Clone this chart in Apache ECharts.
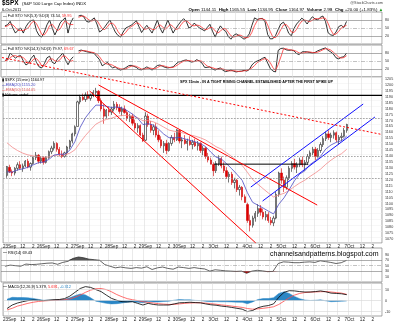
<!DOCTYPE html>
<html>
<head>
<meta charset="utf-8">
<script src="https://cdn.jsdelivr.net/npm/echarts@6/dist/echarts.min.js"></script>
<style>
html,body{margin:0;padding:0;background:#fff;}
#chart{width:400px;height:323px;}
</style>
</head>
<body>
<div id="chart"></div>
<script>
// ---------- categories / tick labels ----------
const days = ['23Sep','26Sep','27Sep','28Sep','29Sep','30Sep','3Oct','4Oct','5Oct','6Oct','7Oct'];
const slotTimes = ['9:30','10:00','10:30','11:00','11:30','12:00','12:30','13:00','13:30','14:00','14:30','15:00','15:30'];
const preSlots = ['22Sep 15:00','22Sep 15:30'];
const intradayTicks = {5:'12', 9:'2'};

// ---------- 30-min bars [open, high, low, close] ----------
const sep22 = [null, [1122,1130,1120,1129.5]];
const sep23 = [[1128.8,1131,1124,1125],[1125,1127,1121.36,1124],[1124,1129,1122,1128],[1128,1133,1126,1131],[1131,1134,1127,1128],[1128,1132,1125,1130],[1130,1135,1129,1134],[1134,1136,1128,1129],[1129,1133,1126,1132],[1132,1138,1131,1137],[1137,1141.72,1135,1139],[1139,1140,1132,1134],[1134,1138,1132,1136.4]];
const sep26 = [[1136.9,1138,1131.07,1133],[1133,1138,1132,1137],[1137,1143,1136,1142],[1142,1147,1140,1145],[1145,1150.78,1143,1149],[1149,1150,1142,1144],[1144,1146,1138,1140],[1140,1143,1136.57,1138],[1138,1142,1137,1141],[1141,1147,1139,1146],[1146,1152,1144,1151],[1151,1158,1149,1157],[1157,1164.2,1155,1163]];
const sep27 = [[1163.3,1185,1163.3,1184],[1184,1190,1182,1188],[1188,1191,1185,1186],[1186,1192,1184,1190],[1190,1193,1186,1187],[1187,1191,1185,1190],[1190,1194,1188,1192],[1192,1195.86,1190,1193],[1193,1194,1183,1185],[1185,1187,1176,1178],[1178,1182,1165.54,1172],[1172,1178,1170,1177],[1177,1180,1172,1175.4]];
const sep28 = [[1175.4,1180,1173,1178],[1178,1184.71,1176,1182],[1182,1184,1177,1179],[1179,1182,1174,1176],[1176,1180,1172,1178],[1178,1181,1174,1175],[1175,1177,1168,1170],[1170,1174,1167,1172],[1172,1174,1164,1166],[1166,1169,1160,1162],[1162,1166,1158,1164],[1164,1165,1155,1156],[1156,1158,1150.26,1151.1]];
const sep29 = [[1151.7,1175.31,1151,1172],[1172,1174,1163,1165],[1165,1168,1158,1160],[1160,1165,1156,1163],[1163,1166,1154,1156],[1156,1160,1150,1152],[1152,1155,1145,1147],[1147,1151,1141,1149],[1149,1152,1139.93,1143],[1143,1150,1142,1149],[1149,1156,1147,1154],[1154,1158,1150,1152],[1152,1161,1151,1160.4]];
const sep30 = [[1159.93,1159.93,1149,1151],[1151,1154,1145,1152],[1152,1156,1148,1149],[1149,1153,1143,1151],[1151,1155,1147,1148],[1148,1152,1144,1150],[1150,1153,1146,1147],[1147,1151,1143,1149],[1149,1150,1141,1143],[1143,1147,1139,1145],[1145,1146,1136,1138],[1138,1141,1133,1135],[1135,1137,1131.34,1131.4]];
const oct3 = [[1131.2,1133,1121.4,1126],[1126,1134,1124,1132],[1132,1138.99,1130,1136],[1136,1138,1128,1130],[1130,1133,1124,1126],[1126,1129,1119,1121],[1121,1125,1116,1123],[1123,1125,1114,1116],[1116,1120,1111,1118],[1118,1119,1108,1110],[1110,1114,1105,1112],[1112,1113,1101,1104],[1104,1106,1098.9,1099.2]];
const oct4 = [[1097.4,1099,1082,1084],[1084,1089,1074.77,1080],[1080,1088,1078,1086],[1086,1092,1083,1090],[1090,1097.8,1087,1094],[1094,1097,1088,1091],[1091,1094,1085,1087],[1087,1092,1084,1089],[1089,1091,1082,1084],[1084,1087,1080,1082],[1082,1088,1079.22,1086],[1086,1108,1085,1106],[1106,1125.12,1104,1124]];
const oct5 = [[1124,1128,1115,1118],[1118,1121,1107.92,1112],[1112,1122,1110,1120],[1120,1130,1118,1128],[1128,1134,1125,1132],[1132,1136,1127,1129],[1129,1133,1124,1131],[1131,1137,1129,1135],[1135,1138,1129,1131],[1131,1135,1126,1133],[1133,1140,1131,1138],[1138,1143,1136,1141],[1141,1146.07,1139,1144]];
const oct6 = [[1144.1,1146,1134.95,1138],[1138,1145,1137,1143],[1143,1150,1141,1148],[1148,1155,1146,1153],[1153,1159,1151,1157],[1157,1160,1152,1154],[1154,1158,1150,1156],[1156,1160,1153,1158],[1158,1159,1150,1152],[1152,1156,1148,1154],[1154,1158,1151,1155],[1155,1162,1154,1160],[1160,1165.55,1158,1164.97]];

// ---------- moving averages (hourly samples) ----------
const ema20 = [1125,1124.8,1126.6,1127.5,1128.9,1130.9,1132.7,1133.3,1135.5,1139.1,
 1139.9,1139.8,1143.2,1150.6,1162.6,1170.6,1176.3,1181.3,1181.2,1180.3,
 1179.3,1179.7,1178.9,1176.6,1173.7,1170.2,1164.9,1165.6,1164.4,1161,
 1156.8,1153.8,1153.6,1154.1,1152.8,1151.6,1150.3,1148.8,1146.3,1141.6,
 1137.4,1135.9,1131.9,1127.6,1122.9,1117.8,1107.4,1099.3,1096.9,1094.5,
 1091.9,1089.5,1097.7,1103.1,1110.1,1117.5,1123.2,1125.9,1131.3,1134.3,
 1138.2,1144.3,1147.7,1149.9,1151.3,1155.2];
const ema50 = [1149.5,1145.8,1143,1140.8,1139.3,1138.4,1137.9,1137.4,1137.6,1138.9,
 1139.3,1139.4,1140.7,1143.6,1149.9,1155.6,1160.5,1165.2,1167.6,1169.2,
 1170.3,1171.8,1172.6,1172.6,1172.0,1170.7,1168.1,1168.2,1167.2,1165.2,
 1162.7,1160.2,1159.2,1158.6,1157.4,1156.2,1155.1,1153.7,1151.9,1149.1,
 1146.2,1144.2,1141.1,1137.9,1134.4,1130.4,1124.6,1118.5,1114.6,1110.8,
 1107.2,1103.8,1105.5,1106.9,1109.4,1112.6,1115.6,1118.0,1121.2,1124.1,
 1127.3,1131.4,1134.9,1137.9,1140.3,1144.05];

// ---------- Full STO (per 30-min bar) ----------
const stoK5 = [null,58,62,75,50,31,42,50,31,55,
 70,78,80,40,22,16,35,62,80,50,
 24,45,69,80,88,31,70,88,null,95,
 98,92,75,72,80,88,65,35,42,54,
 68,80,55,35,22,16,35,50,55,60,
 68,78,55,33,48,60,45,31,55,80,
 50,31,55,80,55,31,48,62,75,85,
 75,50,55,68,60,50,45,39,52,64,
 38,16,40,58,45,38,18,8,22,28,
 22,15,8,15,28,60,88,82,85,86,
 73,25,9,10,22,45,65,72,55,30,
 21,48,65,76,87,78,65,80,92,84,
 80,90,95,74,32,24,22,35,55,60,
 52,74.54];
const stoD5 = [null,55,58,65,62,52,41,41,41,45,
 52,68,76,66,47,26,24,38,59,64,
 51,40,46,65,79,66,63,63,null,90,
 94,95,88,80,76,80,78,63,47,44,
 55,67,68,57,37,24,24,34,47,55,
 61,69,67,55,45,47,51,45,44,55,
 62,54,45,55,63,55,45,47,62,74,
 78,70,60,58,61,59,52,45,45,52,
 51,39,31,38,48,47,34,21,16,19,
 24,22,15,13,17,34,59,77,85,84,
 81,61,36,15,14,26,44,61,64,52,
 35,33,45,63,76,80,77,74,79,85,
 85,85,88,86,67,43,26,27,37,50,
 56,59.95];
const stoK14 = [null,52,56,80,70,61,68,70,50,35,
 42,60,72,45,28,24,40,62,68,45,
 40,58,68,80,55,36,55,66,null,88,
 91,88,85,83,81,78,66,55,32,38,
 45,32,24,28,20,16,20,25,32,34,
 30,26,18,17,22,28,22,16,25,33,
 35,30,26,24,26,28,38,46,48,52,
 54,50,46,48,55,50,42,26,26,28,
 20,16,21,24,15,10,13,16,12,9,
 11,12,15,12,18,35,45,50,54,60,
 64,42,22,12,9,90,97,98,92,90,
 91,88,78,74,84,85,84,82,80,82,
 88,92,96,99,90,84,76,62,58,64,
 66,79.97];
const stoD14 = [null,50,53,63,69,70,66,66,63,52,
 42,46,58,59,48,32,31,42,57,58,
 51,48,55,69,68,57,49,52,null,80,
 88,89,88,85,83,81,75,66,51,42,
 38,38,34,28,24,21,19,20,26,30,
 32,30,25,20,19,22,24,22,21,25,
 31,33,30,27,25,26,31,37,44,49,
 51,52,50,48,50,51,49,39,31,27,
 25,21,19,20,20,16,13,13,14,12,
 11,11,13,15,18,24,33,44,50,55,
 59,55,43,25,14,37,65,95,96,93,
 91,90,86,80,79,81,84,84,82,81,
 83,87,92,96,95,91,83,74,65,61,
 63,69.67];

// ---------- RSI / MACD (hourly samples) ----------
const rsi14 = [48,52,50,48,56,54,55,57,59,60,
 55,62,66,77,82,79,74,72,70,54,
 48,42,45,42,40,43,41,46,36,42,
 45,40,37,45,43,40,43,40,38,30,
 35,33,31,30,29,30,22,30,33,31,
 28,29,58,64,63,61,61,63,64,62,
 68,65,62,58,61,69.43];
const macdLine = [-7.2,-4,-2.2,-1,0,0.5,0.3,0,0.4,0.8,
 1,1.8,4,7.5,11,12.7,12,10,8.2,5,
 2,0.3,-1,-1.2,-1,-2.5,-4,-2.5,-3.5,-4,
 -4,-4,-3,-2,-1.8,-1.5,-1.8,-2,-3,-3.8,
 -4.2,-5,-5.5,-6.2,-7,-7.8,-10,-9,-6.5,-5.2,
 -4.5,-3,3,7.5,9,8.8,8.2,7.8,7.8,8.2,
 8.8,8,6.8,6.5,6.2,5.379];
const macdSignal = [-8.5,-7,-5,-3.8,-2.5,-1.5,-0.8,-0.3,0,0.3,
 0.5,0.8,1.5,3,5,7.5,9.5,10.8,11,10,
 8,5.5,3.5,1.8,0.8,0,-1,-1.6,-2.2,-2.8,
 -3.2,-3.5,-3.4,-3,-2.5,-2.2,-2,-2,-2.3,-2.8,
 -3.3,-3.9,-4.4,-5,-5.6,-6.2,-7.2,-7.8,-7.5,-7,
 -6.4,-5.6,-3.5,-0.5,2.5,5,6.5,7.3,7.7,7.9,
 8.1,8.2,7.8,7.3,6.8,5.691];
const macdHist = [1.3,3,2.8,2.8,2.5,2,1.1,0.3,0.4,0.5,
 0.5,1,2.5,4.5,6,5.2,2.5,-0.5,-1.5,-2.5,
 -3,-2.8,-2.2,-1.5,-1,-1.5,-2,-0.9,-1.3,-1.2,
 -0.8,-0.5,0.4,1,0.7,0.7,0.2,0,-0.7,-1,
 -0.9,-1.1,-1.1,-1.2,-1.4,-1.6,-2.8,-1.2,1,1.8,
 1.9,2.6,6.5,8,6.5,3.8,1.7,0.5,0.1,0.3,
 0.7,-0.2,-1,-0.8,-0.6,-0.312];

// ---------- annotated swing points (bar index, high/low) ----------
const swingIdx  = [3,12,15,19,22,35,38,42,53,54,62,67,82,94,97,103,107,119];
const swingKind = ['low','high','low','high','low','high','low','high','low','high','low','high','high','low','high','low','low','low'];

// ---------- hand-drawn trendlines, in (bar index, price) ----------
const trendDashed = [[-0.9,1221.4],[144.5,1156.5]];
const trendUpperRed = [[36.0,1198.3],[119.7,1097.0]];
const trendLowerRed = [[32.6,1193.2],[96.2,1065.0]];
const trendUpperBlue = [[94.3,1112.2],[137.3,1182.2]];
const trendLowerBlue = [[98.8,1100.4],[141.8,1171.3]];
const levelTop = [[-0.5,1189.5],[144.5,1189.5]];
const levelMid = [[80.2,1131.5],[116.3,1131.5]];
const dottedLevels = [1170,1138.5,1120];

// ---------- build ----------
const F = '"Liberation Sans", Arial, sans-serif';
const categories = preSlots.concat(...days.map(d => slotTimes.map(t => d + ' ' + t)));
const tickLabel = categories.map((c, i) => {
  if (i < preSlots.length) return '';
  const s = (i - preSlots.length) % 13;
  const d = Math.floor((i - preSlots.length) / 13);
  if (s === 0) return days[d];
  return intradayTicks[s] || '';
});
const bars = [].concat(sep22, sep23, sep26, sep27, sep28, sep29, sep30, oct3, oct4, oct5, oct6);
const candleData = bars.map(b => b ? [b[0], b[3], b[2], b[1]] : ['-','-','-','-']);
const perBar = arr => arr.map((v, i) => [i, v]);
const hourly = arr => arr.map((v, k) => [2 * k + 1, v]);
const swingData = swingIdx.map((i, n) => {
  const hi = swingKind[n] === 'high';
  return { value: [i, hi ? bars[i][1] : bars[i][2]], label: { position: hi ? 'top' : 'bottom' } };
});

const gridDefs = [[12,32],[45,32],[77,166],[248,34],[283,33]];
const grid = gridDefs.map(g => ({ left: 1, right: 18, top: g[0], height: g[1], show: true, borderColor: '#8c8c8c', borderWidth: 0.8, backgroundColor: '#fff' }));

const showIdx = i => tickLabel[i] !== '';
const xAxis = [];
for (let g = 0; g < 5; g++) {
  xAxis.push({
    type: 'category', gridIndex: g, data: categories, boundaryGap: true,
    axisLine: { show: false }, axisTick: { show: false },
    axisLabel: { show: g === 2 || g === 4, interval: showIdx, formatter: (v, i) => tickLabel[i], fontSize: 4.6, color: '#222', margin: 1.5, fontFamily: F },
    splitLine: { show: true, interval: showIdx, lineStyle: { color: '#dcdcdc', width: 0.6 } }
  });
}
for (let g = 0; g < 5; g++) {
  xAxis.push({ type: 'value', gridIndex: g, min: -0.5, max: 144.5, show: false });
}

const yLbl = (shown, extra) => Object.assign({ fontSize: 3.7, color: '#333', margin: 3, fontFamily: F, formatter: v => shown.indexOf(v) >= 0 ? String(v) : '' }, extra || {});
const yBase = { type: 'value', position: 'right', axisLine: { show: false }, axisTick: { show: false }, splitLine: { show: false } };
const mainTicks = [];
for (let v = 1070; v <= 1205; v += 5) mainTicks.push(v);
const yAxis = [
  Object.assign({}, yBase, { gridIndex: 0, min: -10, max: 110, interval: 10, axisLabel: yLbl([20,50,80]) }),
  Object.assign({}, yBase, { gridIndex: 1, min: -10, max: 110, interval: 10, axisLabel: yLbl([20,50,80]) }),
  Object.assign({}, yBase, { gridIndex: 2, min: 1065, max: 1205, interval: 5, axisLabel: yLbl(mainTicks, { verticalAlign: 'top' }), splitLine: { show: true, lineStyle: { color: '#efefef', width: 0.5 } } }),
  Object.assign({}, yBase, { gridIndex: 3, min: -10, max: 115, interval: 10, axisLabel: yLbl([10,30,50,70,90]) }),
  Object.assign({}, yBase, { gridIndex: 4, min: -14, max: 16, interval: 2, axisLabel: yLbl([-10,0,10]) })
];

const refLines = (solid, dashdot, color) => ({
  silent: true, symbol: ['none','none'], label: { show: false }, animation: false,
  data: solid.map(v => ({ yAxis: v, lineStyle: { type: 'solid', color: color || '#777', width: 0.6 } }))
    .concat(dashdot.map(v => ({ yAxis: v, lineStyle: { type: [4,1.5,1,1.5], color: '#999', width: 0.6 } })))
});
const lineS = (xi, yi, data, color, width, extra) => Object.assign({
  type: 'line', xAxisIndex: xi, yAxisIndex: yi, data: data, symbol: 'none',
  lineStyle: { color: color, width: width }, animation: false
}, extra || {});

const series = [
  // STO 5,3
  lineS(5, 0, perBar(stoK5), '#000', 0.8, { markLine: refLines([80,20],[50]) }),
  lineS(5, 0, perBar(stoD5), '#ff3030', 0.8),
  // STO 14,3
  lineS(6, 1, perBar(stoK14), '#000', 0.8, { markLine: refLines([80,20],[50]) }),
  lineS(6, 1, perBar(stoD14), '#ff3030', 0.8),
  // main price
  {
    type: 'candlestick', xAxisIndex: 2, yAxisIndex: 2, data: candleData, barWidth: 1.8, animation: false,
    itemStyle: { color: '#ffffff', color0: '#e00000', borderColor: '#1a1a1a', borderColor0: '#d00000', borderWidth: 0.6 },
    markLine: { silent: true, symbol: ['none','none'], label: { show: false }, animation: false,
      data: dottedLevels.map(v => ({ yAxis: v })), lineStyle: { type: [1.5,1.5], color: '#8a8a8a', width: 0.8 } }
  },
  lineS(7, 2, hourly(ema50), '#f28a8a', 0.8),
  lineS(7, 2, hourly(ema20), '#4a4ac4', 0.8),
  lineS(7, 2, levelTop, '#000', 1.4),
  lineS(7, 2, levelMid, '#000', 1),
  lineS(7, 2, trendUpperRed, '#ff0000', 1),
  lineS(7, 2, trendLowerRed, '#ff0000', 1),
  lineS(7, 2, trendUpperBlue, '#1010ff', 1),
  lineS(7, 2, trendLowerBlue, '#1010ff', 1),
  lineS(7, 2, trendDashed, '#ff0000', 1, { clip: false, lineStyle: { color: '#ff0000', width: 1, type: [2,2] } }),
  {
    type: 'scatter', xAxisIndex: 2, yAxisIndex: 2, data: swingData, symbolSize: 0.1, animation: false,
    itemStyle: { opacity: 0 },
    label: { show: true, formatter: p => p.value[1].toFixed(2), fontSize: 3.4, color: '#333', fontFamily: F,
      backgroundColor: '#fff', borderColor: '#a0a0a0', borderWidth: 0.4, padding: [0.8,1,0.4,1], distance: 1.5 }
  },
  // RSI
  lineS(8, 3, hourly(rsi14.map(v => Math.max(v, 70))), '#555', 0, { areaStyle: { origin: 70, color: '#555', opacity: 1 }, lineStyle: { width: 0 } }),
  lineS(8, 3, hourly(rsi14.map(v => Math.min(v, 30))), '#c00', 0, { areaStyle: { origin: 30, color: '#cc0000', opacity: 1 }, lineStyle: { width: 0 } }),
  lineS(8, 3, hourly(rsi14), '#222', 0.7, { markLine: refLines([70,30],[50]) }),
  // MACD
  lineS(9, 4, hourly(macdHist), '#2b86c5', 0.5, { areaStyle: { origin: 0, color: '#2b86c5', opacity: 1 }, markLine: refLines([10,0,-10], [], '#d5d5d5') }),
  lineS(9, 4, hourly(macdSignal), '#ff4a4a', 0.8),
  lineS(9, 4, hourly(macdLine), '#000', 0.8)
];

const txt = (x, y, text, rich, extra) => ({
  type: 'text', x: x, y: y, silent: true, z: 100,
  style: Object.assign({ text: text, rich: rich, fontFamily: F, verticalAlign: 'middle' }, extra || {})
});
const R = (size, color, bold) => ({ fontSize: size, fill: color, fontFamily: F, fontWeight: bold ? 'bold' : 'normal' });

const graphic = [
  txt(2, 3.5, '{b|$SPX} {n|(S&P 500 Large Cap Index) INDX}', { b: R(6.5, '#000', true), n: R(4.3, '#000') }),
  txt(2, 9.8, '{n|6-Oct-2011}', { n: R(3.9, '#000') }),
  txt(383, 2.8, '{n|@StockCharts.com}', { n: R(3.8, '#444') }, { align: 'right' }),
  txt(383, 9.6, '{b|Open} 1144.11  {b|High} 1165.55  {b|Low} 1134.95  {b|Close} 1164.97  {b|Volume} 2.9B  {b|Chg} +20.00 (+1.83%) {g|▲}',
    { b: R(4.4, '#000', true), g: R(4.4, '#1a9a1a') }, { align: 'right', fontSize: 4.4, fill: '#000' }),
  txt(3, 15.6, '{k|—} Full STO %K(5,3) %D(3) 74.54, {r|59.95}', { k: R(3.8, '#000', true), r: R(3.8, '#ff2020') }, { fontSize: 3.8, fill: '#000' }),
  txt(3, 48.6, '{k|—} Full STO %K(14,3) %D(3) 79.97, {r|69.67}', { k: R(3.8, '#000', true), r: R(3.8, '#ff2020') }, { fontSize: 3.8, fill: '#000' }),
  txt(2, 80.3, '{k|▮} $SPX (15 min) 1164.97', { k: R(3.8, '#000') }, { fontSize: 3.8, fill: '#000' }),
  txt(2, 85.3, '{k|—}EMA(20) 1155.20', { k: R(3.8, '#4a4ac4', true) }, { fontSize: 3.8, fill: '#4a4ac4' }),
  txt(2, 90.3, '{k|—}EMA(50) 1144.05', { k: R(3.8, '#f06060', true) }, { fontSize: 3.8, fill: '#e05a5a' }),
  txt(2, 95.3, '{k|▮} Volume undef', { k: R(3.8, '#000') }, { fontSize: 3.8, fill: '#000' }),
  txt(180, 82.3, 'SPX 15min - IN A TIGHT RISING CHANNEL ESTABLISHED AFTER THE FIRST SPIKE UP', null, { fontSize: 3.7, fontWeight: 'bold', fill: '#000' }),
  txt(270, 254.3, 'channelsandpatterns.blogspot.com', null, { fontSize: 7, fill: '#000' }),
  txt(3, 252.6, '{k|—} RSI(14) 69.43', { k: R(3.9, '#000', true) }, { fontSize: 3.9, fill: '#000' }),
  txt(3, 286.6, '{k|—} MACD(12,26,9) 5.379, {r|5.691}, {b|-0.312}', { k: R(3.9, '#000', true), r: R(3.9, '#ff2020'), b: R(3.9, '#2b86c5') }, { fontSize: 3.9, fill: '#000' })
];

const chart = echarts.init(document.getElementById('chart'));
chart.setOption({
  animation: false,
  backgroundColor: '#fff',
  textStyle: { fontFamily: F },
  grid: grid,
  xAxis: xAxis,
  yAxis: yAxis,
  series: series,
  graphic: graphic
});
</script>
</body>
</html>
